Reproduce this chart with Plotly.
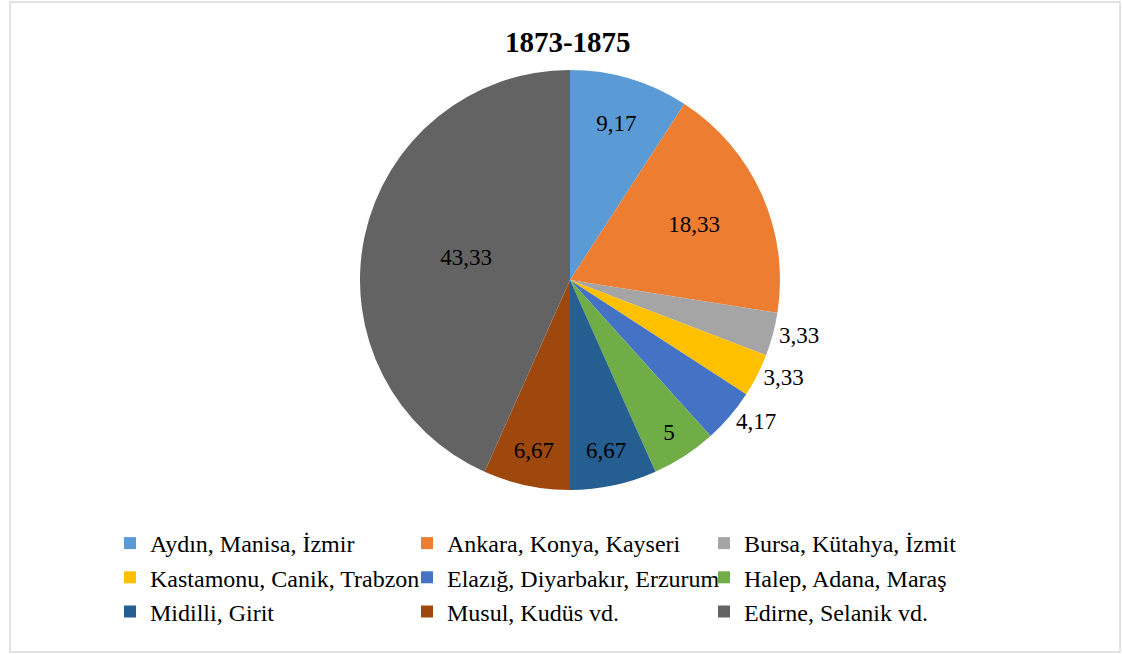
import plotly.graph_objects as go

labels = ["Aydın, Manisa, İzmir", "Ankara, Konya, Kayseri", "Bursa, Kütahya, İzmit",
          "Kastamonu, Canik, Trabzon", "Elazığ, Diyarbakır, Erzurum", "Halep, Adana, Maraş",
          "Midilli, Girit", "Musul, Kudüs vd.", "Edirne, Selanik vd."]
values = [9.17, 18.33, 3.33, 3.33, 4.17, 5, 6.67, 6.67, 43.33]
colors = ["#5B9BD5", "#ED7D31", "#A5A5A5", "#FFC000", "#4472C4", "#70AD47",
          "#255E91", "#9E480E", "#636363"]
positions = ["inside", "inside", "outside", "outside", "outside", "inside",
             "inside", "inside", "inside"]

FONT = "Liberation Serif"
W, H = 1122, 654
ml, mr, mt, mb = 20, 20, 70, 164
pw, ph = W - ml - mr, H - mt - mb


def px_x(p):
    return (p - ml) / pw


def px_y(p):
    return (H - mb - p) / ph


fig = go.Figure(go.Pie(
    labels=labels, values=values, sort=False, direction="clockwise", rotation=0,
    marker=dict(colors=colors, line=dict(color="white", width=0)),
    textinfo="value", textposition=positions,
    insidetextorientation="horizontal",
    textfont=dict(family=FONT, size=23, color="black"),
    outsidetextfont=dict(family=FONT, size=23, color="black"),
    insidetextfont=dict(family=FONT, size=23, color="black"),
    domain=dict(x=[px_x(360), px_x(780)], y=[0, 1]),
    hoverinfo="label+value",
))

fig.update_layout(
    width=W, height=H,
    separators=", ",
    paper_bgcolor="white", plot_bgcolor="white",
    margin=dict(l=ml, r=mr, t=mt, b=mb, autoexpand=False),
    font=dict(family=FONT, size=23, color="black"),
    title=dict(text="<b>1873-1875</b>", x=0.506, xanchor="center", y=1 - 42 / H,
               yanchor="middle", yref="container",
               font=dict(family=FONT, size=29, color="black")),
    legend=dict(orientation="h", x=px_x(110), xanchor="left", y=px_y(521), yanchor="top",
                entrywidth=252, entrywidthmode="pixels", itemsizing="constant",
                font=dict(family=FONT, size=24, color="black"),
                traceorder="normal"),
    shapes=[dict(type="rect", xref="paper", yref="paper",
                 x0=px_x(10), x1=px_x(1120), y0=px_y(652), y1=px_y(2),
                 line=dict(color="#D9D9D9", width=1.5), fillcolor="rgba(0,0,0,0)", layer="below")],
)

fig.write_html("out.html", config={"displayModeBar": False},
               post_script="document.body.style.margin='0';")
